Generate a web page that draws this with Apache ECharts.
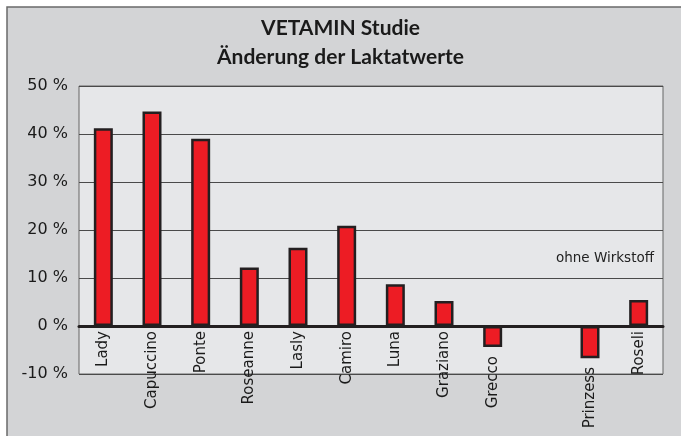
<!DOCTYPE html>
<html>
<head>
<meta charset="utf-8">
<script src="https://cdn.jsdelivr.net/npm/echarts@6/dist/echarts.min.js"></script>
<style>
  html, body { margin: 0; padding: 0; background: #fff; }
  #chart { width: 681px; height: 436px; }
</style>
</head>
<body>
<div id="chart"></div>
<script>
  // Daten (Änderung in %)
  var horses = ['Lady', 'Capuccino', 'Ponte', 'Roseanne', 'Lasly', 'Camiro', 'Luna', 'Graziano', 'Grecco', '', 'Prinzess', 'Roseli']
  var changes = [41.2, 44.7, 39.0, 12.2, 16.3, 20.9, 8.7, 5.2, -4.4, null, -6.7, 5.4]
  var yTicks = { min: -10, max: 50, interval: 10 }

  var labelFont = 'DejaVu Sans'
  var chart = echarts.init(document.getElementById('chart'))

  // bei negativen Balken steht der Name unterhalb des Balkens
  var categoryData = horses.map(function (name, i) {
    var v = changes[i]
    if (v != null && v < 0) {
      return { value: name, textStyle: { padding: [0, Math.round(-v * 4.8) + 4, 0, 0] } }
    }
    return name
  })

  chart.setOption({
    backgroundColor: '#ffffff',
    animation: false,
    title: {
      text: 'VETAMIN Studie\nÄnderung der Laktatwerte',
      left: 'center',
      top: 9,
      textStyle: {
        fontFamily: 'Lato',
        fontWeight: 'bold',
        fontSize: 21,
        lineHeight: 29,
        color: '#1a1a1a'
      }
    },
    graphic: [
      {
        type: 'rect',
        z: -100,
        shape: { x: 7, y: 7, width: 700, height: 460 },
        style: { fill: '#d3d4d6', stroke: '#6a6a6a', lineWidth: 1.5 }
      },
      {
        type: 'text',
        right: 27,
        top: 251,
        style: {
          text: 'ohne Wirkstoff',
          fontFamily: labelFont,
          fontSize: 13.5,
          fill: '#222'
        }
      }
    ],
    grid: {
      left: 79,
      right: 18,
      top: 86,
      bottom: 62,
      show: true,
      backgroundColor: '#e6e7e9',
      borderColor: '#666',
      borderWidth: 1,
      outerBoundsMode: 'none'
    },
    xAxis: {
      type: 'category',
      data: categoryData,
      // Achse auf die 0-Linie schieben (10 % = 48 px)
      offset: -48,
      axisTick: { show: false },
      axisLine: { onZero: false, lineStyle: { color: '#231f20', width: 3 } },
      axisLabel: {
        interval: 0,
        rotate: 90,
        margin: 5,
        fontFamily: labelFont,
        fontSize: 15,
        color: '#1a1a1a'
      }
    },
    yAxis: {
      type: 'value',
      min: yTicks.min,
      max: yTicks.max,
      interval: yTicks.interval,
      axisLine: { show: false },
      axisTick: { show: false },
      axisLabel: {
        formatter: '{value} %',
        margin: 11,
        fontFamily: labelFont,
        fontSize: 16,
        color: '#1a1a1a'
      },
      splitLine: { lineStyle: { color: '#4a4a4a', width: 1 } }
    },
    series: [
      {
        type: 'bar',
        data: changes,
        barWidth: 19,
        itemStyle: {
          color: '#ed1c24',
          borderColor: '#231f20',
          borderWidth: 2.5
        }
      }
    ]
  })
</script>
</body>
</html>
